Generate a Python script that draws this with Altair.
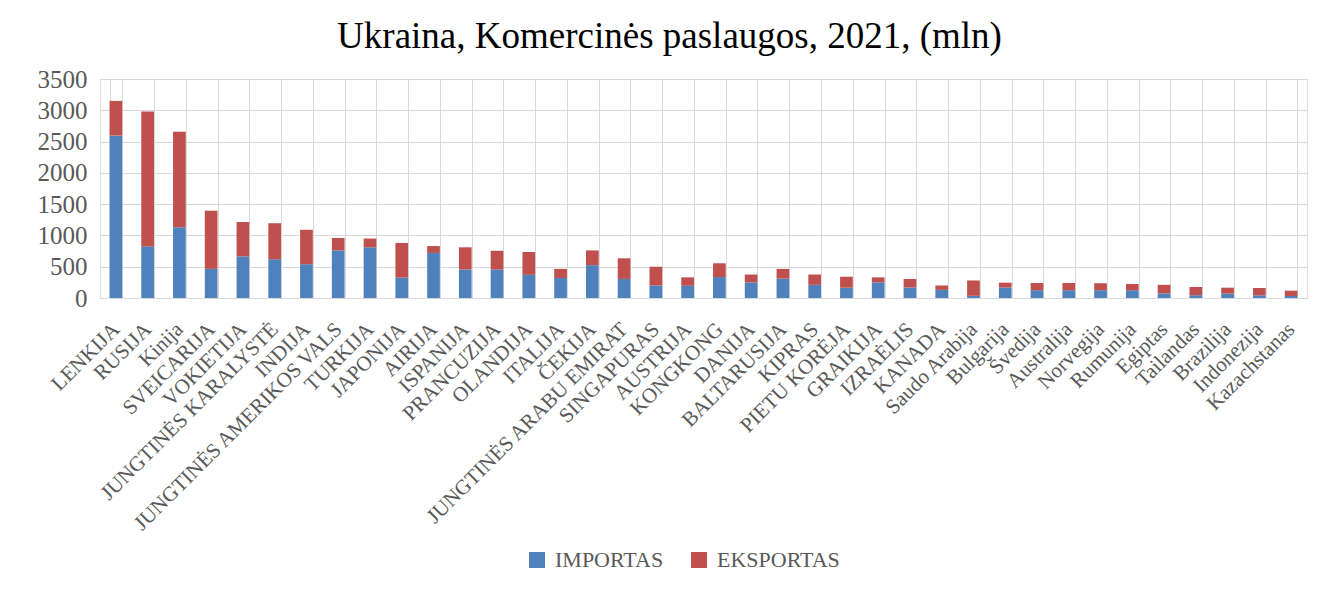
import altair as alt
import pandas as pd

countries = [
    "LENKIJA", "RUSIJA", "Kinija", "SVEICARIJA", "VOKIETIJA", "JUNGTINĖS KARALYSTĖ",
    "INDIJA", "JUNGTINĖS AMERIKOS VALS", "TURKIJA", "JAPONIJA", "AIRIJA", "ISPANIJA",
    "PRANCUZIJA", "OLANDIJA", "ITALIJA", "ČEKIJA", "JUNGTINĖS ARABU EMIRAT",
    "SINGAPURAS", "AUSTRIJA", "KONGKONG", "DANIJA", "BALTARUSIJA", "KIPRAS",
    "PIETU KORĖJA", "GRAIKIJA", "IZRAĖLIS", "KANADA", "Saudo Arabija", "Bulgarija",
    "Švedija", "Australija", "Norvegija", "Rumunija", "Egiptas", "Tailandas",
    "Brazilija", "Indonezija", "Kazachstanas",
]
importas = [
    2595, 825, 1130, 465, 665, 620, 540, 760, 810, 325, 720, 455, 455, 370, 320,
    525, 305, 200, 195, 335, 250, 310, 210, 165, 250, 168, 130, 35, 168, 125,
    125, 125, 125, 72, 45, 70, 43, 32,
]
eksportas = [
    555, 2155, 1525, 930, 550, 575, 550, 200, 140, 555, 110, 355, 300, 365, 145,
    235, 330, 300, 135, 220, 125, 155, 165, 175, 80, 136, 70, 245, 77, 115,
    115, 111, 99, 138, 131, 95, 117, 85,
]
series = ["IMPORTAS", "EKSPORTAS"]
colors = ["#4f81bd", "#c0504d"]
y_ticks = [0, 500, 1000, 1500, 2000, 2500, 3000, 3500]

rows = []
for c, i, e in zip(countries, importas, eksportas):
    rows.append({"country": c, "series": series[0], "value": i, "ord": 0})
    rows.append({"country": c, "series": series[1], "value": e, "ord": 1})
df = pd.DataFrame(rows)

FONT = "Liberation Serif"
GRID = "#d9d9d9"
TXT = "#595959"

chart = (
    alt.Chart(df)
    .mark_bar()
    .encode(
        x=alt.X(
            "country:N",
            sort=countries,
            scale=alt.Scale(paddingInner=0.6, paddingOuter=0.3),
            axis=alt.Axis(
                title=None,
                labelAngle=-45,
                labelAlign="right",
                labelBaseline="middle",
                labelFont=FONT,
                labelFontSize=21,
                labelColor=TXT,
                labelPadding=28,
                labelLimit=0,
                labelOverlap=False,
                ticks=False,
                domain=True,
                domainColor=GRID,
                grid=True,
                gridColor=GRID,
                tickBand="extent",
            ),
        ),
        y=alt.Y(
            "value:Q",
            stack="zero",
            scale=alt.Scale(domain=[0, 3500], nice=False),
            axis=alt.Axis(
                title=None,
                values=y_ticks,
                format="d",
                labelFont=FONT,
                labelFontSize=25,
                labelColor=TXT,
                labelPadding=13,
                ticks=False,
                domain=False,
                grid=True,
                gridColor=GRID,
            ),
        ),
        color=alt.Color(
            "series:N",
            scale=alt.Scale(domain=series, range=colors),
            legend=alt.Legend(
                title=None,
                orient="none",
                legendX=426,
                legendY=470,
                direction="horizontal",
                symbolType="square",
                symbolSize=256,
                symbolStrokeWidth=0,
                symbolOpacity=1,
                labelFont=FONT,
                labelFontSize=22,
                labelColor=TXT,
                labelOffset=7,
                columnPadding=24,
                padding=0,
            ),
        ),
        order=alt.Order("ord:Q"),
    )
    .properties(
        width=1207,
        height=219,
        title=alt.TitleParams(
            "Ukraina, Komercinės paslaugos, 2021, (mln)",
            font=FONT,
            fontSize=37,
            fontWeight="normal",
            color="#000000",
            anchor="middle",
            dx=-34,
            dy=40,
            baseline="alphabetic",
            offset=22,
        ),
        autosize=alt.AutoSizeParams(type="none"),
        padding={"left": 92, "top": 71, "right": 7, "bottom": 275},
    )
    .configure_view(stroke=None)
    .configure(background="white")
)

chart.save("out.html", embed_options={"renderer": "svg", "actions": False})
